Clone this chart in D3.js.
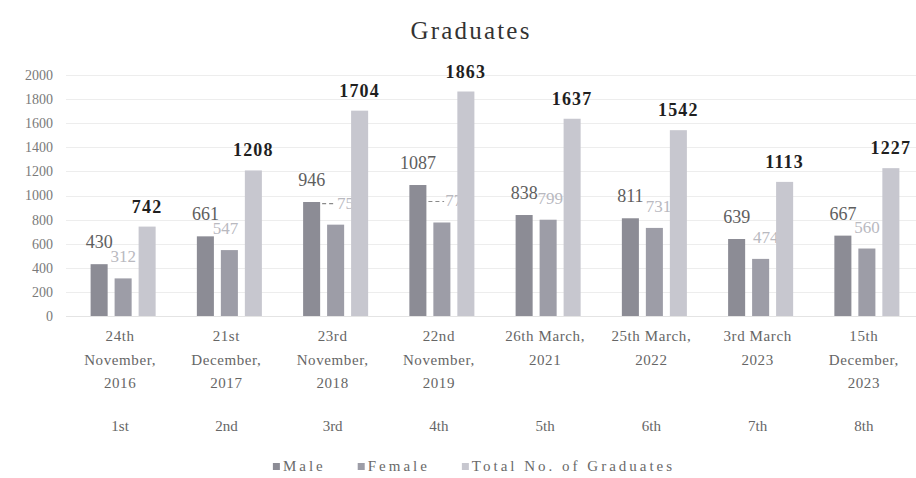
<!DOCTYPE html>
<html>
<head>
<meta charset="utf-8">
<script src="https://cdn.jsdelivr.net/npm/d3@7"></script>
<style>
  html, body { margin: 0; padding: 0; background: #fff; }
  svg { display: block; }
</style>
</head>
<body>
<svg id="chart" width="916" height="478"></svg>
<script>
// Graduation ceremonies: date lines and ordinal under each group
const dateLines = [
  ["24th", "November,", "2016"],
  ["21st", "December,", "2017"],
  ["23rd", "November,", "2018"],
  ["22nd", "November,", "2019"],
  ["26th March,", "2021"],
  ["25th March,", "2022"],
  ["3rd March", "2023"],
  ["15th", "December,", "2023"]
];
const ordinals = ["1st", "2nd", "3rd", "4th", "5th", "6th", "7th", "8th"];

const seriesNames = ["Male", "Female", "Total No. of Graduates"];
const male   = [430, 661, 946, 1087, 838, 811, 639, 667];
const female = [312, 547, 758, 776, 799, 731, 474, 560];
const total  = [742, 1208, 1704, 1863, 1637, 1542, 1113, 1227];

const yTicks = [0, 200, 400, 600, 800, 1000, 1200, 1400, 1600, 1800, 2000];

// ---- layout & style ----
const colors = ["#8c8c95", "#9d9da7", "#c7c7cf"];
const fontFamily = "'Liberation Serif', 'Times New Roman', serif";
// horizontal nudge of the female value labels (label sits partly behind the total bar)
const femaleLabelNudge = [0, -4, 14, 16, 2, 4, 5, 0];

const svg = d3.select("#chart");
const groups = d3.range(male.length);

const x0 = d3.scaleBand()
  .domain(groups)
  .range([70, 920])
  .paddingInner(0.388)
  .paddingOuter(0.194);

const x1 = d3.scaleBand()
  .domain([0, 1, 2])
  .range([0, x0.bandwidth()])
  .paddingInner(0.29);

const y = d3.scaleLinear().domain([0, 2000]).range([316, 75]);

const values = [male, female, total];

// Title
svg.append("text")
  .attr("x", 471).attr("y", 39)
  .attr("text-anchor", "middle")
  .attr("font-family", fontFamily)
  .attr("font-size", 25)
  .attr("letter-spacing", 2.2)
  .attr("fill", "#333")
  .text("Graduates");

// Gridlines
svg.append("g")
  .selectAll("line")
  .data(yTicks.filter(d => d > 0))
  .join("line")
  .attr("x1", 66).attr("x2", 916)
  .attr("y1", d => Math.round(y(d)) + 0.5)
  .attr("y2", d => Math.round(y(d)) + 0.5)
  .attr("stroke", "#ededed")
  .attr("stroke-width", 1);

// Y axis labels
const yAxis = d3.axisLeft(y)
  .tickValues(yTicks)
  .tickFormat(d3.format("d"))
  .tickSize(0)
  .tickPadding(0);
const yG = svg.append("g")
  .attr("transform", "translate(53,0)")
  .call(yAxis);
yG.select(".domain").remove();
yG.selectAll("text")
  .attr("font-family", fontFamily)
  .attr("font-size", 14)
  .attr("fill", "#7a7a7a");

// Baseline
svg.append("line")
  .attr("x1", 66).attr("x2", 916)
  .attr("y1", y(0) + 0.5).attr("y2", y(0) + 0.5)
  .attr("stroke", "#e4e4e4");

const gGroups = svg.append("g");

// Male and female bars
[0, 1].forEach(s => {
  gGroups.append("g")
    .selectAll("rect")
    .data(groups)
    .join("rect")
    .attr("x", i => x0(i) + x1(s))
    .attr("y", i => y(values[s][i]))
    .attr("width", x1.bandwidth())
    .attr("height", i => y(0) - y(values[s][i]))
    .attr("fill", colors[s]);
});

// Female value labels (light, drawn beneath the total bars)
const femaleLabels = svg.append("g");
groups.forEach(i => {
  const cx = x0(i) + x1(1) + x1.bandwidth() / 2 + femaleLabelNudge[i];
  const by = y(female[i]) - 16;
  const t = femaleLabels.append("text")
    .attr("x", cx).attr("y", by)
    .attr("text-anchor", "middle")
    .attr("font-family", fontFamily)
    .attr("font-size", 17)
    .attr("fill", "#b9b9bf")
    .text(female[i]);
  if (femaleLabelNudge[i] > 8) {
    const w = t.node().getComputedTextLength();
    femaleLabels.append("line")
      .attr("x1", x0(i) + x1(0) + x1.bandwidth() + 2)
      .attr("x2", cx - w / 2 - 1)
      .attr("y1", by - 5).attr("y2", by - 5)
      .attr("stroke", "#8a8a8a")
      .attr("stroke-width", 1.2)
      .attr("stroke-dasharray", "4,3");
  }
});

// Total bars
svg.append("g")
  .selectAll("rect")
  .data(groups)
  .join("rect")
  .attr("x", i => x0(i) + x1(2))
  .attr("y", i => y(total[i]))
  .attr("width", x1.bandwidth())
  .attr("height", i => y(0) - y(total[i]))
  .attr("fill", colors[2]);

// Male value labels
svg.append("g")
  .selectAll("text")
  .data(groups)
  .join("text")
  .attr("x", i => x0(i) + x1(0) + x1.bandwidth() / 2)
  .attr("y", i => y(male[i]) - 16)
  .attr("text-anchor", "middle")
  .attr("font-family", fontFamily)
  .attr("font-size", 18)
  .attr("fill", "#5e5e5e")
  .text(i => male[i]);

// Total value labels
svg.append("g")
  .selectAll("text")
  .data(groups)
  .join("text")
  .attr("x", i => x0(i) + x1(2) + x1.bandwidth() / 2)
  .attr("y", i => y(total[i]) - 14)
  .attr("text-anchor", "middle")
  .attr("font-family", fontFamily)
  .attr("font-size", 18)
  .attr("font-weight", "bold")
  .attr("letter-spacing", 1.2)
  .attr("fill", "#1f1f1f")
  .text(i => total[i]);

// Category labels
const catG = svg.append("g");
groups.forEach(i => {
  const cx = x0(i) + x0.bandwidth() / 2 - 3;
  const t = catG.append("text")
    .attr("text-anchor", "middle")
    .attr("font-family", fontFamily)
    .attr("font-size", 15)
    .attr("letter-spacing", 0.6)
    .attr("fill", "#666");
  dateLines[i].forEach((line, k) => {
    t.append("tspan")
      .attr("x", cx)
      .attr("y", 341 + k * 23.5)
      .text(line);
  });
  catG.append("text")
    .attr("x", cx).attr("y", 431)
    .attr("text-anchor", "middle")
    .attr("font-family", fontFamily)
    .attr("font-size", 15)
    .attr("fill", "#666")
    .text(ordinals[i]);
});

// Legend
const legend = svg.append("g");
let lx = 0;
seriesNames.forEach((name, s) => {
  const g = legend.append("g").attr("transform", `translate(${lx},0)`);
  g.append("rect")
    .attr("x", 0).attr("y", -8)
    .attr("width", 7).attr("height", 7)
    .attr("fill", colors[s]);
  const t = g.append("text")
    .attr("x", 10).attr("y", 0)
    .attr("font-family", fontFamily)
    .attr("font-size", 15)
    .attr("letter-spacing", 3)
    .attr("fill", "#6a6a6a")
    .text(name);
  lx += 10 + t.node().getComputedTextLength() + 32;
});
const legendWidth = lx - 32;
legend.attr("transform", `translate(${474 - legendWidth / 2},471)`);
</script>
</body>
</html>
